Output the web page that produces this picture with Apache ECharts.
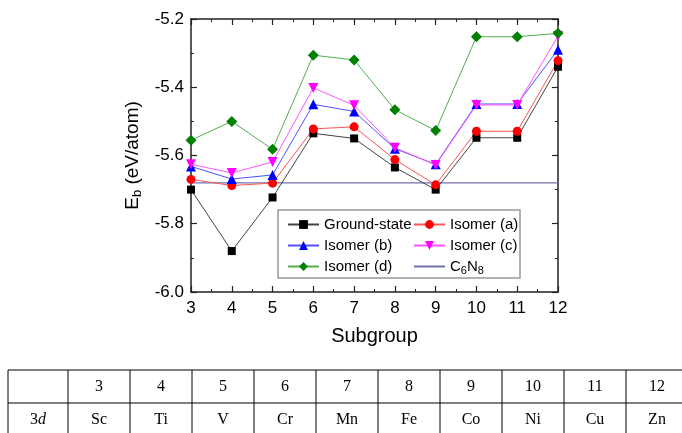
<!DOCTYPE html>
<html>
<head>
<meta charset="utf-8">
<script src="https://cdn.jsdelivr.net/npm/echarts@6/dist/echarts.min.js"></script>
<style>
html,body{margin:0;padding:0;background:#fff;}
#main{width:682px;height:433px;}
</style>
</head>
<body>
<div id="main"></div>
<script>
const subgroups = [3, 4, 5, 6, 7, 8, 9, 10, 11, 12];
const groundState = [-5.70, -5.88, -5.723, -5.535, -5.55, -5.635, -5.70, -5.548, -5.548, -5.34];
const isomerA = [-5.67, -5.688, -5.681, -5.522, -5.516, -5.612, -5.686, -5.529, -5.529, -5.322];
const isomerB = [-5.632, -5.669, -5.657, -5.45, -5.471, -5.58, -5.626, -5.449, -5.449, -5.29];
const isomerC = [-5.626, -5.651, -5.619, -5.402, -5.453, -5.577, -5.628, -5.452, -5.452, -5.25];
const isomerD = [-5.555, -5.50, -5.582, -5.306, -5.32, -5.466, -5.527, -5.252, -5.252, -5.242];
const c6n8Level = -5.68;
const yTicks = ['-6.0', '-5.8', '-5.6', '-5.4', '-5.2'];
const tableGroups = ['3', '4', '5', '6', '7', '8', '9', '10', '11', '12'];
const tableElements = ['Sc', 'Ti', 'V', 'Cr', 'Mn', 'Fe', 'Co', 'Ni', 'Cu', 'Zn'];

const pair = arr => subgroups.map((x, i) => [x, arr[i]]);

function mkSeries(name, data, lineColor, markColor, symbol, size) {
  return {
    name: name, type: 'line', data: pair(data),
    symbol: symbol, symbolSize: size,
    lineStyle: {color: lineColor, width: 1},
    itemStyle: {color: markColor},
    emphasis: {disabled: true},
    animation: false, z: 3
  };
}

const chart = echarts.init(document.getElementById('main'));

// table graphics
const graphics = [];
const tTop = 370, tMid = 403, tBot = 440;
const colX = [8, 68];
for (let i = 1; i <= 10; i++) colX.push(68 + i * 62);
graphics.push({type: 'line', shape: {x1: 8, y1: tTop, x2: 690, y2: tTop}, style: {stroke: '#000', lineWidth: 1}});
graphics.push({type: 'line', shape: {x1: 8, y1: tMid, x2: 690, y2: tMid}, style: {stroke: '#000', lineWidth: 1}});
colX.forEach(x => graphics.push({type: 'line', shape: {x1: x, y1: tTop, x2: x, y2: tBot}, style: {stroke: '#000', lineWidth: 1}}));
tableGroups.forEach((g, i) => {
  const cx = colX[i + 1] + 31;
  graphics.push({type: 'text', x: cx, y: (tTop + tMid) / 2, style: {text: g, font: '16px "Liberation Serif"', fill: '#000', textAlign: 'center', textVerticalAlign: 'middle'}});
  graphics.push({type: 'text', x: cx, y: (tMid + 436) / 2, style: {text: tableElements[i], font: '16px "Liberation Serif"', fill: '#000', textAlign: 'center', textVerticalAlign: 'middle'}});
});
graphics.push({type: 'text', x: 38, y: (tMid + 436) / 2, style: {
  text: '{n|3}{i|d}', textAlign: 'center', textVerticalAlign: 'middle', fill: '#000',
  rich: {n: {fontFamily: 'Liberation Serif', fontSize: 16}, i: {fontFamily: 'Liberation Serif', fontSize: 16, fontStyle: 'italic'}}
}});
// legend box
graphics.push({type: 'rect', shape: {x: 278, y: 210, width: 242, height: 68}, style: {fill: 'none', stroke: '#999', lineWidth: 1.5}, z: 10});

const legendText = {
  fontFamily: 'Liberation Sans', fontSize: 15, color: '#000',
  rich: {n: {fontFamily: 'Liberation Sans', fontSize: 15, color: '#000'},
         s: {fontFamily: 'Liberation Sans', fontSize: 11, color: '#000', padding: [9, 0, 0, 0]}}
};
const legendFmt = name => name === 'C6N8' ? '{n|C}{s|6}{n|N}{s|8}' : name;

const axisLine = {show: true, lineStyle: {color: '#222', width: 1.5}};
const option = {
  backgroundColor: '#fff',
  animation: false,
  grid: {left: 191, right: 124, top: 19, bottom: 141},
  legend: [
    {orient: 'vertical', left: 287, top: 217, padding: 0, itemWidth: 31, itemHeight: 11, itemGap: 6,
     data: ['Ground-state', 'Isomer (b)', 'Isomer (d)'], textStyle: legendText, formatter: legendFmt, selectedMode: false},
    {orient: 'vertical', left: 413, top: 217, padding: 0, itemWidth: 31, itemHeight: 11, itemGap: 6,
     data: ['Isomer (a)', 'Isomer (c)',
            {name: 'C6N8', itemStyle: {color: 'rgba(0,0,0,0)', borderColor: 'rgba(0,0,0,0)', borderWidth: 0}}],
     textStyle: legendText, formatter: legendFmt, selectedMode: false}
  ],
  xAxis: [
    {type: 'value', min: 3, max: 12, interval: 1, position: 'bottom',
     name: 'Subgroup', nameLocation: 'middle', nameGap: 34,
     nameTextStyle: {fontFamily: 'Liberation Sans', fontSize: 20, color: '#000'},
     axisLine: axisLine,
     axisTick: {show: true, inside: true, length: 6, lineStyle: {color: '#222', width: 1.2}},
     minorTick: {show: true, splitNumber: 2, length: 3, lineStyle: {color: '#222', width: 1}},
     axisLabel: {fontFamily: 'Liberation Sans', fontSize: 17, color: '#000', margin: 8},
     splitLine: {show: false}},
    {type: 'value', min: 3, max: 12, interval: 1, position: 'top',
     axisLine: axisLine,
     axisTick: {show: true, inside: true, length: 6, lineStyle: {color: '#222', width: 1.2}},
     minorTick: {show: true, splitNumber: 2, length: 3, lineStyle: {color: '#222', width: 1}},
     axisLabel: {show: false}, splitLine: {show: false}}
  ],
  yAxis: [
    {type: 'value', min: -6, max: -5.2, interval: 0.2, position: 'left',
     name: '{e|E}{b|b}{e| (eV/atom)}', nameLocation: 'middle', nameGap: 44, nameRotate: 90,
     nameTextStyle: {rich: {
       e: {fontFamily: 'Liberation Sans', fontSize: 19, color: '#000'},
       b: {fontFamily: 'Liberation Sans', fontSize: 13, color: '#000', padding: [10, 0, 0, 0]}}},
     axisLine: axisLine,
     axisTick: {show: true, inside: true, length: 6, lineStyle: {color: '#222', width: 1.2}},
     minorTick: {show: true, splitNumber: 2, length: 3, lineStyle: {color: '#222', width: 1}},
     axisLabel: {fontFamily: 'Liberation Sans', fontSize: 17, color: '#000', margin: 7,
       formatter: v => { const s = v.toFixed(1); return yTicks.indexOf(s) >= 0 ? s : ''; }},
     splitLine: {show: false}},
    {type: 'value', min: -6, max: -5.2, interval: 0.2, position: 'right',
     axisLine: axisLine,
     axisTick: {show: true, inside: true, length: 6, lineStyle: {color: '#222', width: 1.2}},
     minorTick: {show: true, splitNumber: 2, length: 3, lineStyle: {color: '#222', width: 1}},
     axisLabel: {show: false}, splitLine: {show: false}}
  ],
  series: [
    {name: 'C6N8', type: 'line', data: [[subgroups[0], c6n8Level], [subgroups[subgroups.length - 1], c6n8Level]],
     symbol: 'none', lineStyle: {color: '#7070b0', width: 1.2}, itemStyle: {color: '#7070b0'}, z: 2, emphasis: {disabled: true}},
    mkSeries('Ground-state', groundState, '#444', '#000', 'rect', 8),
    mkSeries('Isomer (a)', isomerA, '#ff5555', '#ff0000', 'circle', 9),
    mkSeries('Isomer (b)', isomerB, '#5050ff', '#0000ff', 'triangle', 10),
    mkSeries('Isomer (c)', isomerC, '#ff55ff', '#ff00ff', 'path://M0,0 L10,0 L5,9 Z', 10),
    mkSeries('Isomer (d)', isomerD, '#50b050', '#008000', 'diamond', 11)
  ],
  graphic: graphics
};
chart.setOption(option);
</script>
</body>
</html>
